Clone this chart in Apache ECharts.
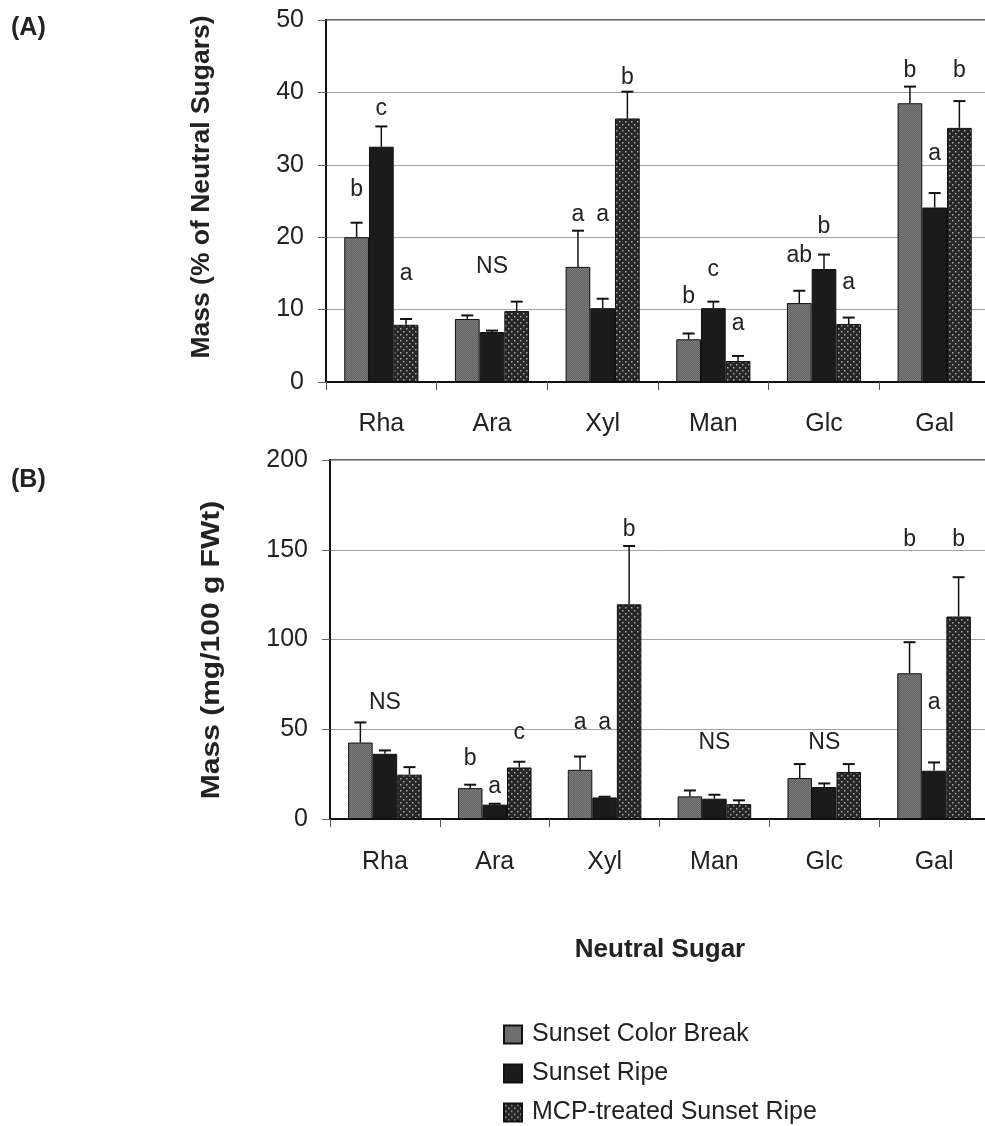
<!DOCTYPE html>
<html><head><meta charset="utf-8">
<script src="https://cdn.jsdelivr.net/npm/echarts@6/dist/echarts.min.js"></script>
<style>html,body{margin:0;padding:0;background:#fff;overflow:hidden}#c{width:1000px;height:1126px}</style>
</head><body><div id="c"></div>
<script>
// ---------- DATA ----------
const categories = ['Rha', 'Ara', 'Xyl', 'Man', 'Glc', 'Gal'];
const seriesNames = ['Sunset Color Break', 'Sunset Ripe', 'MCP-treated Sunset Ripe'];

// Panel A: Mass (% of neutral sugars)
const pctColorBreak = [20.0, 8.7, 15.9, 5.9, 10.9, 38.5];
const pctRipe       = [32.5, 6.9, 10.2, 10.2, 15.6, 24.1];
const pctMCP        = [7.9, 9.8, 36.4, 2.9, 8.0, 35.1];
const pctErrColorBreak = [2.0, 0.5, 5.0, 0.8, 1.7, 2.3];
const pctErrRipe       = [2.8, 0.2, 1.3, 0.9, 2.0, 2.0];
const pctErrMCP        = [0.8, 1.3, 3.7, 0.7, 0.9, 3.7];
// letters: [text, category index, bar index, level]
const lettersA = [
  ['b', 0, 0, 26.5], ['c', 0, 1, 37.8], ['a', 0, 2, 15.0],
  ['NS', 1, 1, 15.9],
  ['a', 2, 0, 23.1], ['a', 2, 1, 23.1], ['b', 2, 2, 42.1],
  ['b', 3, 0, 11.8], ['c', 3, 1, 15.5], ['a', 3, 2, 8.0],
  ['ab', 4, 0, 17.5], ['b', 4, 1, 21.5], ['a', 4, 2, 13.7],
  ['b', 5, 0, 43.0], ['a', 5, 1, 31.6], ['b', 5, 2, 43.0]
];
const ticksA = {min: 0, max: 50, interval: 10};

// Panel B: Mass (mg/100 g FWt)
const mgColorBreak = [42.6, 17.2, 27.4, 12.6, 22.8, 81.2];
const mgRipe       = [36.3, 8.0, 12.0, 11.3, 17.8, 26.9];
const mgMCP        = [24.7, 28.7, 119.6, 8.3, 26.2, 112.8];
const mgErrColorBreak = [11.2, 1.9, 7.4, 3.3, 7.8, 17.3];
const mgErrRipe       = [1.9, 0.5, 0.4, 2.2, 2.0, 4.6];
const mgErrMCP        = [4.2, 3.2, 32.5, 2.1, 4.4, 21.9];
const lettersB = [
  ['NS', 0, 1, 64.9],
  ['b', 1, 0, 33.4], ['a', 1, 1, 18.1], ['c', 1, 2, 47.9],
  ['a', 2, 0, 53.4], ['a', 2, 1, 53.4], ['b', 2, 2, 161],
  ['NS', 3, 1, 42.3], ['NS', 4, 1, 42.3],
  ['b', 5, 0, 155.4], ['a', 5, 1, 64.6], ['b', 5, 2, 155.4]
];
const ticksB = {min: 0, max: 200, interval: 50};

// ---------- STYLE ----------
const FONT = '"Liberation Sans", Arial, sans-serif';
const GAP = 0.33;
function makePattern(w, h, bg, dots, dotColor, ds) {
  const cv = document.createElement('canvas');
  cv.width = w; cv.height = h;
  const g = cv.getContext('2d');
  g.fillStyle = bg; g.fillRect(0, 0, w, h);
  g.fillStyle = dotColor;
  dots.forEach(d => g.fillRect(d[0], d[1], ds, ds));
  return {image: cv, repeat: 'repeat'};
}
const fillCB = makePattern(2, 2, '#5f5f5f', [[0, 0], [1, 1]], '#7e7e7e', 1);
const fillRipe = '#1b1b1b';
const fillMCP = makePattern(6, 6, '#262626', [[1, 1], [4, 4]], '#a8a8a8', 1.5);
const fills = [fillCB, fillRipe, fillMCP];

function barSeries(name, data, idx, gi) {
  return {
    type: 'bar', name: name, data: data, xAxisIndex: gi, yAxisIndex: gi,
    barGap: '0%', barCategoryGap: (GAP * 100) + '%',
    itemStyle: {color: fills[idx], borderColor: '#111', borderWidth: 1},
    z: 2
  };
}
function errSeries(vals, errs, gi) {
  const data = [];
  vals.forEach((arr, s) => arr.forEach((v, c) => data.push([c, s, v, errs[s][c]])));
  return {
    type: 'custom', xAxisIndex: gi, yAxisIndex: gi, z: 3, silent: true,
    encode: {x: 0, y: 2},
    data: data,
    renderItem: function (params, api) {
      const cat = api.value(0), s = api.value(1), v = api.value(2), e = api.value(3);
      const p0 = api.coord([cat, v]), p1 = api.coord([cat, v + e]);
      const band = api.size([1, 0])[0];
      const bw = band * (1 - GAP) / 3;
      const x = p0[0] + (s - 1) * bw;
      const hw = 6;
      return {type: 'group', children: [
        {type: 'line', shape: {x1: x, y1: p0[1], x2: x, y2: p1[1]}, style: {stroke: '#111', lineWidth: 1.5}},
        {type: 'line', shape: {x1: x - hw, y1: p1[1], x2: x + hw, y2: p1[1]}, style: {stroke: '#111', lineWidth: 2}}
      ]};
    }
  };
}
function letterSeries(letters, gi) {
  const texts = letters.map(l => l[0]);
  return {
    type: 'custom', xAxisIndex: gi, yAxisIndex: gi, z: 4, silent: true,
    encode: {x: 0, y: 1},
    data: letters.map(l => [l[1], l[3], l[2]]),
    renderItem: function (params, api) {
      const c = api.coord([api.value(0), api.value(1)]);
      const band = api.size([1, 0])[0];
      const bw = band * (1 - GAP) / 3;
      const x = c[0] + (api.value(2) - 1) * bw;
      return {type: 'text', x: x, y: c[1], style: {
        text: texts[params.dataIndex], align: 'center', verticalAlign: 'middle',
        textAlign: 'center', textVerticalAlign: 'middle',
        fontSize: 23, fontFamily: FONT, fill: '#222'
      }};
    }
  };
}

function xAxisCfg(gi, margin) {
  return {
    type: 'category', gridIndex: gi, data: categories,
    axisLine: {show: true, lineStyle: {color: '#111', width: 2}},
    axisTick: {show: true, length: 8, lineStyle: {color: '#555'}},
    axisLabel: {fontSize: 25, fontFamily: FONT, color: '#222', margin: margin},
    splitLine: {show: false}
  };
}
function yAxisCfg(gi, t) {
  return {
    type: 'value', gridIndex: gi, min: t.min, max: t.max, interval: t.interval,
    axisLine: {show: true, lineStyle: {color: '#111', width: 2}},
    axisTick: {show: true, length: 8, lineStyle: {color: '#666'}},
    axisLabel: {fontSize: 25, fontFamily: FONT, color: '#222', margin: 22},
    splitLine: {show: true, lineStyle: {color: '#a3a3a3', width: 1}}
  };
}

const chart = echarts.init(document.getElementById('c'), null, {renderer: 'canvas'});
chart.setOption({
  backgroundColor: '#fff',
  animation: false,
  grid: [
    {left: 326, top: 20, width: 664, height: 362, show: true, borderColor: '#333', borderWidth: 1.5, backgroundColor: 'transparent'},
    {left: 330, top: 460, width: 659, height: 359, show: true, borderColor: '#333', borderWidth: 1.5, backgroundColor: 'transparent'}
  ],
  xAxis: [xAxisCfg(0, 30), xAxisCfg(1, 31)],
  yAxis: [yAxisCfg(0, ticksA), yAxisCfg(1, ticksB)],
  legend: {
    data: seriesNames, orient: 'vertical', left: 503, top: 1022, padding: 0,
    itemWidth: 18, itemHeight: 18, itemGap: 14,
    textStyle: {fontSize: 25, fontFamily: FONT, color: '#222', padding: [0, 0, 0, 5]},
    icon: 'rect'
  },
  graphic: [
    {type: 'text', left: 11, top: 16, style: {text: '(A)', font: 'bold 25px ' + FONT, fill: '#222'}},
    {type: 'text', left: 11, top: 468, style: {text: '(B)', font: 'bold 25px ' + FONT, fill: '#222'}},
    {type: 'text', x: 202, y: 187, rotation: Math.PI / 2, scaleX: 1.06,
      style: {text: 'Mass (% of Neutral Sugars)', font: 'bold 25px ' + FONT, fill: '#222', align: 'center', verticalAlign: 'middle', textAlign: 'center', textVerticalAlign: 'middle'}},
    {type: 'text', x: 212, y: 650, rotation: Math.PI / 2, scaleX: 1.2,
      style: {text: 'Mass (mg/100 g FWt)', font: 'bold 25px ' + FONT, fill: '#222', align: 'center', verticalAlign: 'middle', textAlign: 'center', textVerticalAlign: 'middle'}},
    {type: 'text', x: 660, y: 950,
      style: {text: 'Neutral Sugar', font: 'bold 26px ' + FONT, fill: '#222', align: 'center', verticalAlign: 'middle', textAlign: 'center', textVerticalAlign: 'middle'}}
  ],
  series: [
    barSeries(seriesNames[0], pctColorBreak, 0, 0),
    barSeries(seriesNames[1], pctRipe, 1, 0),
    barSeries(seriesNames[2], pctMCP, 2, 0),
    errSeries([pctColorBreak, pctRipe, pctMCP], [pctErrColorBreak, pctErrRipe, pctErrMCP], 0),
    letterSeries(lettersA, 0),
    barSeries(seriesNames[0], mgColorBreak, 0, 1),
    barSeries(seriesNames[1], mgRipe, 1, 1),
    barSeries(seriesNames[2], mgMCP, 2, 1),
    errSeries([mgColorBreak, mgRipe, mgMCP], [mgErrColorBreak, mgErrRipe, mgErrMCP], 1),
    letterSeries(lettersB, 1)
  ]
});
</script>
</body></html>
